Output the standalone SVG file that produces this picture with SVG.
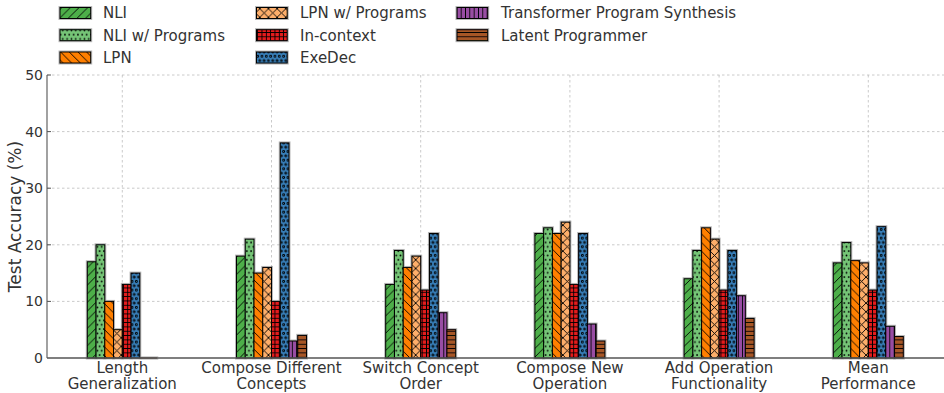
<svg xmlns="http://www.w3.org/2000/svg" width="944" height="393" viewBox="0 0 944 393">
<style>
text{font-family:"DejaVu Sans","Liberation Sans",sans-serif;fill:#333}
.leg{font-size:15px}
.tick{font-size:14px;text-anchor:end}
.xl{font-size:15px;text-anchor:middle}
.grid{stroke:#bdbdbd;stroke-width:0.8;stroke-dasharray:2.5 2.5;fill:none}
.bar{stroke:#000;stroke-width:1}
.h{stroke:#000;stroke-width:0.9;fill:none}
.s0{fill:url(#p0)}.s1{fill:url(#p1)}.s2{fill:url(#p2)}.s3{fill:url(#p3)}
.s4{fill:url(#p4)}.s5{fill:url(#p5)}.s6{fill:url(#p6)}.s7{fill:url(#p7)}
</style>
<defs>
<filter id="halo" filterUnits="userSpaceOnUse" x="0" y="0" width="944" height="393">
<feMorphology in="SourceAlpha" operator="dilate" radius="1.3" result="d"/>
<feFlood flood-color="#000" flood-opacity="0.28"/>
<feComposite in2="d" operator="in" result="s"/>
<feMerge><feMergeNode in="s"/><feMergeNode in="SourceGraphic"/></feMerge>
</filter>
<pattern id="p0" width="8.66" height="8.66" patternUnits="userSpaceOnUse"><rect width="8.66" height="8.66" fill="#4daf4a"/><path class="h" d="M-2.165,2.165L2.165,-2.165M0,8.66L8.66,0M6.495,10.825L10.825,6.495"/></pattern>
<pattern id="p1" width="4.33" height="8.66" patternUnits="userSpaceOnUse"><rect width="4.33" height="8.66" fill="#74c476"/><g fill="#000"><circle cx="0" cy="0" r="0.85"/><circle cx="4.33" cy="0" r="0.85"/><circle cx="0" cy="8.66" r="0.85"/><circle cx="4.33" cy="8.66" r="0.85"/><circle cx="2.165" cy="4.33" r="0.85"/></g></pattern>
<pattern id="p2" width="8.66" height="8.66" patternUnits="userSpaceOnUse"><rect width="8.66" height="8.66" fill="#ff7f00"/><path class="h" d="M0,0L8.66,8.66M-2.165,6.495L2.165,10.825M6.495,-2.165L10.825,2.165"/></pattern>
<pattern id="p3" width="8.66" height="8.66" patternUnits="userSpaceOnUse"><rect width="8.66" height="8.66" fill="#fdae6b"/><path class="h" d="M0,0L8.66,8.66M-2.165,6.495L2.165,10.825M6.495,-2.165L10.825,2.165M-2.165,2.165L2.165,-2.165M0,8.66L8.66,0M6.495,10.825L10.825,6.495"/></pattern>
<pattern id="p4" width="4.33" height="4.33" patternUnits="userSpaceOnUse"><rect width="4.33" height="4.33" fill="#e41a1c"/><path class="h" d="M0,2.165H4.33M2.165,0V4.33"/></pattern>
<pattern id="p5" width="4.33" height="8.66" patternUnits="userSpaceOnUse"><rect width="4.33" height="8.66" fill="#377eb8"/><g class="h" stroke-width="0.7"><circle cx="0" cy="0" r="0.95"/><circle cx="4.33" cy="0" r="0.95"/><circle cx="0" cy="8.66" r="0.95"/><circle cx="4.33" cy="8.66" r="0.95"/><circle cx="2.165" cy="4.33" r="0.95"/></g></pattern>
<pattern id="p6" width="4.33" height="4.33" patternUnits="userSpaceOnUse"><rect width="4.33" height="4.33" fill="#984ea3"/><path class="h" d="M2.165,0V4.33"/></pattern>
<pattern id="p7" width="4.33" height="4.33" patternUnits="userSpaceOnUse"><rect width="4.33" height="4.33" fill="#a65628"/><path class="h" d="M0,2.165H4.33"/></pattern>
</defs>
<rect width="944" height="393" fill="#fff"/>

<g id="grid">
<path class="grid" d="M47,75H944M47,131.6H944M47,188.2H944M47,244.8H944M47,301.4H944"/>
<path class="grid" d="M122.3,75V358M271.5,75V358M420.7,75V358M569.9,75V358M719.1,75V358M868.3,75V358"/>
</g>

<g id="axes">
<path d="M47,75V358" stroke="#555" stroke-width="1.1" fill="none"/>
<path d="M47,75h4M47,131.6h4M47,188.2h4M47,244.8h4M47,301.4h4" stroke="#555" stroke-width="1" fill="none"/>
<text class="tick" x="43" y="80">50</text>
<text class="tick" x="43" y="136.6">40</text>
<text class="tick" x="43" y="193.2">30</text>
<text class="tick" x="43" y="249.8">20</text>
<text class="tick" x="43" y="306.4">10</text>
<text class="tick" x="43" y="363">0</text>
<text x="0" y="0" font-size="17" text-anchor="middle" transform="translate(21,216.5) rotate(-90)">Test Accuracy (%)</text>
</g>

<g id="length-generalization" filter="url(#halo)">
<rect class="bar s0" x="87.3" y="261.78" width="8.75" height="96.22"/>
<rect class="bar s1" x="96.05" y="244.8" width="8.75" height="113.2"/>
<rect class="bar s2" x="104.8" y="301.4" width="8.75" height="56.6"/>
<rect class="bar s3" x="113.55" y="329.7" width="8.75" height="28.3"/>
<rect class="bar s4" x="122.3" y="284.42" width="8.75" height="73.58"/>
<rect class="bar s5" x="131.05" y="273.1" width="8.75" height="84.9"/>
<path d="M139.8,358H157.3" stroke="#3a1d0c" stroke-width="1.2"/>
</g>

<g id="compose-different-concepts" filter="url(#halo)">
<rect class="bar s0" x="236.5" y="256.12" width="8.75" height="101.88"/>
<rect class="bar s1" x="245.25" y="239.14" width="8.75" height="118.86"/>
<rect class="bar s2" x="254" y="273.1" width="8.75" height="84.9"/>
<rect class="bar s3" x="262.75" y="267.44" width="8.75" height="90.56"/>
<rect class="bar s4" x="271.5" y="301.4" width="8.75" height="56.6"/>
<rect class="bar s5" x="280.25" y="142.92" width="8.75" height="215.08"/>
<rect class="bar s6" x="289" y="341.02" width="8.75" height="16.98"/>
<rect class="bar s7" x="297.75" y="335.36" width="8.75" height="22.64"/>
</g>

<g id="switch-concept-order" filter="url(#halo)">
<rect class="bar s0" x="385.7" y="284.42" width="8.75" height="73.58"/>
<rect class="bar s1" x="394.45" y="250.46" width="8.75" height="107.54"/>
<rect class="bar s2" x="403.2" y="267.44" width="8.75" height="90.56"/>
<rect class="bar s3" x="411.95" y="256.12" width="8.75" height="101.88"/>
<rect class="bar s4" x="420.7" y="290.08" width="8.75" height="67.92"/>
<rect class="bar s5" x="429.45" y="233.48" width="8.75" height="124.52"/>
<rect class="bar s6" x="438.2" y="312.72" width="8.75" height="45.28"/>
<rect class="bar s7" x="446.95" y="329.7" width="8.75" height="28.3"/>
</g>

<g id="compose-new-operation" filter="url(#halo)">
<rect class="bar s0" x="534.9" y="233.48" width="8.75" height="124.52"/>
<rect class="bar s1" x="543.65" y="227.82" width="8.75" height="130.18"/>
<rect class="bar s2" x="552.4" y="233.48" width="8.75" height="124.52"/>
<rect class="bar s3" x="561.15" y="222.16" width="8.75" height="135.84"/>
<rect class="bar s4" x="569.9" y="284.42" width="8.75" height="73.58"/>
<rect class="bar s5" x="578.65" y="233.48" width="8.75" height="124.52"/>
<rect class="bar s6" x="587.4" y="324.04" width="8.75" height="33.96"/>
<rect class="bar s7" x="596.15" y="341.02" width="8.75" height="16.98"/>
</g>

<g id="add-operation-functionality" filter="url(#halo)">
<rect class="bar s0" x="684.1" y="278.76" width="8.75" height="79.24"/>
<rect class="bar s1" x="692.85" y="250.46" width="8.75" height="107.54"/>
<rect class="bar s2" x="701.6" y="227.82" width="8.75" height="130.18"/>
<rect class="bar s3" x="710.35" y="239.14" width="8.75" height="118.86"/>
<rect class="bar s4" x="719.1" y="290.08" width="8.75" height="67.92"/>
<rect class="bar s5" x="727.85" y="250.46" width="8.75" height="107.54"/>
<rect class="bar s6" x="736.6" y="295.74" width="8.75" height="62.26"/>
<rect class="bar s7" x="745.35" y="318.38" width="8.75" height="39.62"/>
</g>

<g id="mean-performance" filter="url(#halo)">
<rect class="bar s0" x="833.3" y="262.91" width="8.75" height="95.09"/>
<rect class="bar s1" x="842.05" y="242.54" width="8.75" height="115.46"/>
<rect class="bar s2" x="850.8" y="260.65" width="8.75" height="97.35"/>
<rect class="bar s3" x="859.55" y="262.91" width="8.75" height="95.09"/>
<rect class="bar s4" x="868.3" y="290.08" width="8.75" height="67.92"/>
<rect class="bar s5" x="877.05" y="226.69" width="8.75" height="131.31"/>
<rect class="bar s6" x="885.8" y="326.3" width="8.75" height="31.7"/>
<rect class="bar s7" x="894.55" y="336.49" width="8.75" height="21.51"/>
</g>

<path id="x-spine" d="M47,358H944" stroke="#555" stroke-width="1.3" fill="none"/>

<g id="x-labels">
<text class="xl" x="122.3" y="372.7">Length</text><text class="xl" x="122.3" y="389.3">Generalization</text>
<text class="xl" x="271.5" y="372.7">Compose Different</text><text class="xl" x="271.5" y="389.3">Concepts</text>
<text class="xl" x="420.7" y="372.7">Switch Concept</text><text class="xl" x="420.7" y="389.3">Order</text>
<text class="xl" x="569.9" y="372.7">Compose New</text><text class="xl" x="569.9" y="389.3">Operation</text>
<text class="xl" x="719.1" y="372.7">Add Operation</text><text class="xl" x="719.1" y="389.3">Functionality</text>
<text class="xl" x="868.3" y="372.7">Mean</text><text class="xl" x="868.3" y="389.3">Performance</text>
</g>

<g id="legend">
<g filter="url(#halo)">
<rect class="bar s0" x="60" y="7.5" width="30.7" height="11"/>
<rect class="bar s1" x="60" y="29.7" width="30.7" height="11"/>
<rect class="bar s2" x="60" y="52" width="30.7" height="11"/>
<rect class="bar s3" x="256.5" y="7.5" width="30.7" height="11"/>
<rect class="bar s4" x="256.5" y="29.7" width="30.7" height="11"/>
<rect class="bar s5" x="256.5" y="52" width="30.7" height="11"/>
<rect class="bar s6" x="457" y="7.5" width="30.7" height="11"/>
<rect class="bar s7" x="457" y="29.7" width="30.7" height="11"/>
</g>
<text class="leg" x="103" y="18.3">NLI</text>
<text class="leg" x="103" y="40.6">NLI w/ Programs</text>
<text class="leg" x="103" y="62.9">LPN</text>
<text class="leg" x="300" y="18.3">LPN w/ Programs</text>
<text class="leg" x="300" y="40.6">In-context</text>
<text class="leg" x="300" y="62.9">ExeDec</text>
<text class="leg" x="501" y="18.3">Transformer Program Synthesis</text>
<text class="leg" x="501" y="40.6">Latent Programmer</text>
</g>
</svg>
